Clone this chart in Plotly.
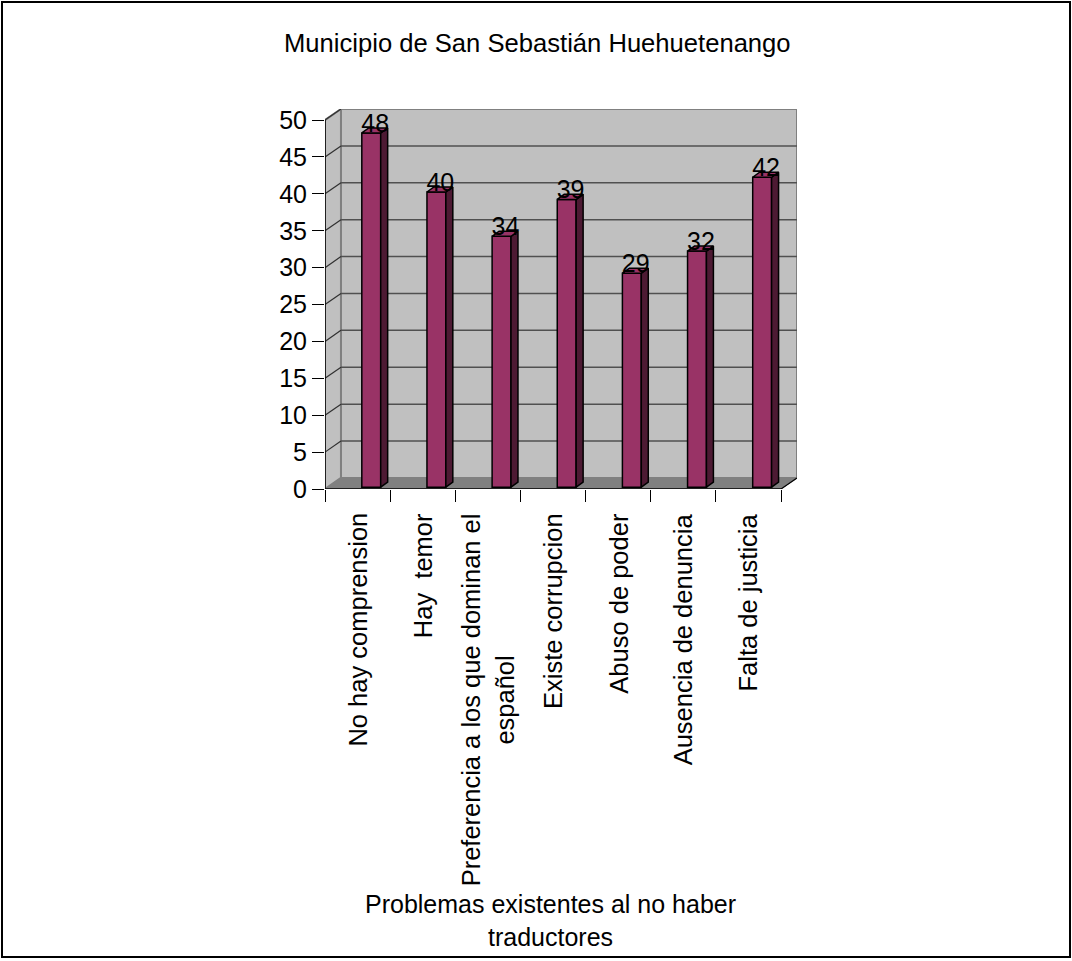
import plotly.graph_objects as go

categories = ["No hay comprension", "Hay  temor", "Preferencia a los que dominan el<br>español",
              "Existe corrupcion", "Abuso de poder", "Ausencia de denuncia", "Falta de justicia"]
values = [48, 40, 34, 39, 29, 32, 42]
yticks = [0, 5, 10, 15, 20, 25, 30, 35, 40, 45, 50]
title_text = "Municipio de San Sebastián Huehuetenango"
xtitle_text = "Problemas existentes al no haber<br>traductores"

W, H = 1072, 961
L, R, T, B = 325, 275, 109, 472
PW, PH = W - L - R, H - T - B
N = len(categories)
YMAX = 50
DX, DY = 0.245, 1.5          # depth of the 3D frame (axis units)
SHIFT_X, BASE = 0.21, 0.25   # bar offset inside the depth
BW = 0.29                    # bar front width
SDX, SDY = 0.107, 0.68       # bar depth

FONT = "Liberation Sans, Arial, sans-serif"

def px(xp):
    return (xp - L) / PW

def py(yp):
    return (H - B - yp) / PH

fig = go.Figure()

centers = [i + 0.5 for i in range(N)]
bx = [c + SHIFT_X for c in centers]

side_x, side_y, top_x, top_y = [], [], [], []
for xc, v in zip(bx, values):
    x0, x1 = xc - BW / 2, xc + BW / 2
    t = v + BASE
    side_x += [x1, x1 + SDX, x1 + SDX, x1, x1, None]
    side_y += [BASE, BASE + SDY, t + SDY, t, BASE, None]
    top_x += [x0, x0 + SDX, x1 + SDX, x1, x0, None]
    top_y += [t, t + SDY, t + SDY, t, t, None]

fig.add_trace(go.Bar(x=bx, y=values, base=BASE, width=BW,
                     marker=dict(color="#993366", line=dict(color="black", width=1.5)),
                     hoverinfo="skip"))
fig.add_trace(go.Scatter(x=side_x, y=side_y, mode="lines", fill="toself",
                         fillcolor="#4d1a33", line=dict(color="black", width=1.5),
                         hoverinfo="skip"))
fig.add_trace(go.Scatter(x=top_x, y=top_y, mode="lines", fill="toself",
                         fillcolor="#993366", line=dict(color="black", width=1.5),
                         hoverinfo="skip"))
fig.add_trace(go.Scatter(x=[xc + 0.06 for xc in bx], y=[v + BASE + 1.0 for v in values],
                         mode="text", text=[str(v) for v in values],
                         textfont=dict(family=FONT, size=25, color="black"),
                         hoverinfo="skip"))

shapes = []
shapes.append(dict(type="rect", xref="x", yref="y", x0=DX, x1=N + DX, y0=DY, y1=YMAX + DY,
                   fillcolor="#c0c0c0", line=dict(color="#808080", width=2), layer="below"))
shapes.append(dict(type="path", xref="x", yref="y",
                   path=f"M 0 0 L {DX} {DY} L {DX} {YMAX+DY} L 0 {YMAX} Z",
                   fillcolor="#c0c0c0", line=dict(color="#808080", width=2), layer="below"))
shapes.append(dict(type="path", xref="x", yref="y",
                   path=f"M 0 0 L {DX} {DY} L {N+DX} {DY} L {N} 0 Z",
                   fillcolor="#808080", line=dict(color="#808080", width=1), layer="below"))
for k in yticks[1:-1]:
    shapes.append(dict(type="line", xref="x", yref="y", x0=DX, x1=N + DX, y0=k + DY, y1=k + DY,
                       line=dict(color="#505050", width=1.5), layer="below"))
for k in yticks[1:]:
    shapes.append(dict(type="line", xref="x", yref="y", x0=0, x1=DX, y0=k, y1=k + DY,
                       line=dict(color="#303030", width=1.2), layer="below"))
shapes.append(dict(type="line", xref="x", yref="y", x0=0, x1=0, y0=0, y1=YMAX,
                   line=dict(color="black", width=1.5)))
shapes.append(dict(type="line", xref="x", yref="y", x0=0, x1=N, y0=0, y1=0,
                   line=dict(color="black", width=1.5)))
shapes.append(dict(type="line", xref="x", yref="y", x0=N, x1=N + DX, y0=0, y1=DY,
                   line=dict(color="black", width=1.2)))
shapes.append(dict(type="rect", xref="paper", yref="paper",
                   x0=px(2), x1=px(1070), y0=py(957), y1=py(2),
                   fillcolor="rgba(0,0,0,0)", line=dict(color="black", width=2)))

annotations = [
    dict(text=title_text, xref="paper", yref="paper", x=px(537), y=py(43),
         xanchor="center", yanchor="middle", showarrow=False,
         font=dict(family=FONT, size=25.6, color="black")),
    dict(text=xtitle_text, xref="paper", yref="paper", x=px(550), y=py(920),
         xanchor="center", yanchor="middle", showarrow=False,
         font=dict(family=FONT, size=25, color="black")),
]
for c, lab in zip(centers, categories):
    annotations.append(dict(text=lab, xref="x", yref="paper", x=c, y=py(511),
                            xanchor="center", yanchor="top", textangle=-90, align="center",
                            showarrow=False, font=dict(family=FONT, size=25.5, color="black")))

fig.update_layout(
    width=W, height=H, margin=dict(l=L, r=R, t=T, b=B, pad=0),
    paper_bgcolor="white", plot_bgcolor="rgba(0,0,0,0)",
    showlegend=False, shapes=shapes, annotations=annotations,
    xaxis=dict(range=[0, N + DX], tickvals=list(range(N + 1)), ticks="outside", ticklen=12,
               tickwidth=1.2, tickcolor="black", showticklabels=False,
               showgrid=False, zeroline=False, showline=False, fixedrange=True),
    yaxis=dict(range=[0, YMAX + DY], tickvals=yticks, ticks="outside", ticklen=12,
               tickwidth=1.2, tickcolor="black", showgrid=False, zeroline=False,
               showline=False, tickfont=dict(family=FONT, size=25, color="black")),
)

fig.write_html("out.html")
